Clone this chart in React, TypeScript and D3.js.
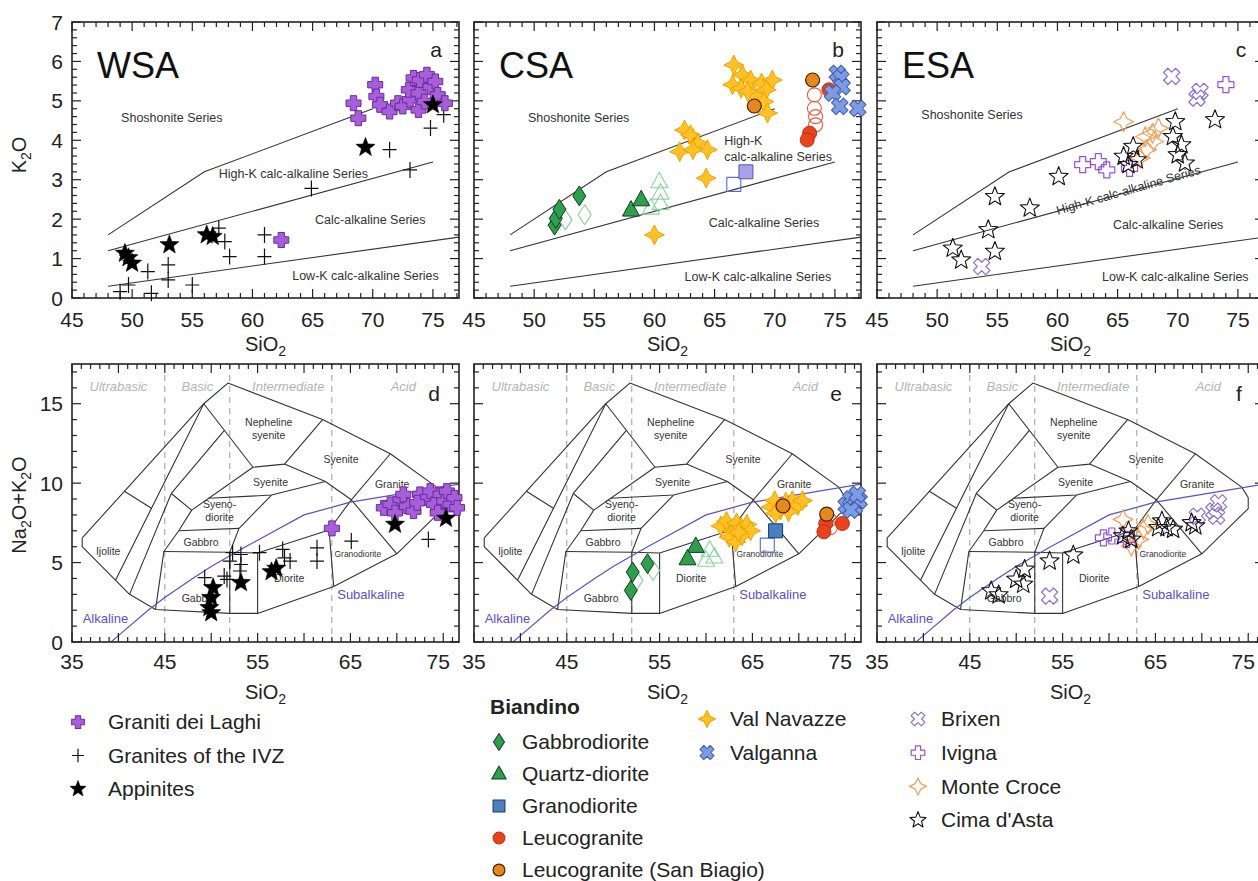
import React from "react";
import * as d3 from "d3";

type P = [number, number];

const FONT = "'Liberation Sans', Arial, Helvetica, sans-serif";

// ---------------- axis ticks ----------------
const k2oTicks = [0, 1, 2, 3, 4, 5, 6, 7];
const silicaTicksTop = [45, 50, 55, 60, 65, 70, 75];
const silicaTicksTas = [35, 45, 55, 65, 75];
const alkaliTicks = [0, 5, 10, 15];

// ---------------- Peccerillo & Taylor series boundaries ----------------
const shoshoniteLine: P[] = [[48, 1.6], [56, 3.2], [70, 4.8]];
const highKLine: P[] = [[48, 1.2], [75, 3.45]];
const lowKLine: P[] = [[48, 0.3], [77.3, 1.55]];

// ---------------- TAS (plutonic) ----------------
const tasOutline: P[] = [
  [36.1, 6.55], [49.2, 15.0], [51.8, 16.3], [62.0, 14.0], [69.3, 11.85], [74.3, 9.75],
  [75.0, 9.1], [75.0, 8.4], [70.0, 5.55], [63.2, 3.5], [55.0, 1.8], [52.0, 1.8],
  [44.0, 2.05], [41.2, 3.0], [36.1, 6.0], [36.1, 6.55],
];
const tasLines: P[][] = [
  [[39.7, 3.9], [49.2, 15.0]],
  [[40.6, 9.5], [43.6, 8.4]],
  [[41.2, 3.0], [45.7, 9.35], [51.4, 13.3]],
  [[49.2, 15.0], [54.5, 11.0]],
  [[44.0, 2.05], [44.9, 5.7], [46.5, 7.0], [47.9, 8.3], [54.5, 11.0]],
  [[45.7, 9.35], [47.9, 8.3]],
  [[54.5, 11.0], [57.9, 11.2], [62.0, 14.0]],
  [[57.9, 11.2], [62.3, 10.1], [65.1, 8.95], [69.3, 11.85]],
  [[49.7, 9.05], [56.5, 9.25], [62.3, 10.1]],
  [[53.0, 7.15], [56.5, 9.25]],
  [[44.9, 5.7], [52.0, 5.65], [55.0, 5.6], [62.7, 7.05], [65.1, 8.95]],
  [[46.5, 7.0], [53.0, 7.15]],
  [[52.0, 5.65], [53.0, 7.15]],
  [[52.0, 5.65], [52.0, 1.8]],
  [[55.0, 5.6], [55.0, 1.8]],
  [[62.7, 7.05], [63.2, 3.5]],
  [[65.1, 8.95], [70.0, 5.55]],
];
const irvineBaragar: P[] = [
  [39.2, 0], [40, 0.4], [43.2, 2], [45, 2.8], [48, 4], [50, 4.75], [53.7, 6], [55, 6.4],
  [60, 8], [65, 8.8], [77.4, 10],
];
const silicaDivisions = [45, 52, 63];
const silicaClasses = [
  { t: "Ultrabasic", x: 40.0 },
  { t: "Basic", x: 48.5 },
  { t: "Intermediate", x: 58.3 },
  { t: "Acid", x: 70.7 },
];
const tasFieldLabels = [
  { t: "Ijolite", x: 38.9, y: 5.72, s: 10.5 },
  { t: "Gabbro", x: 48.9, y: 6.3, s: 10.5 },
  { t: "Gabbro", x: 48.7, y: 2.73, s: 10.5 },
  { t: "Syeno-", x: 50.9, y: 8.66, s: 10.5 },
  { t: "diorite", x: 50.9, y: 7.86, s: 10.5 },
  { t: "Syenite", x: 56.4, y: 10.05, s: 10.5 },
  { t: "Nepheline", x: 56.2, y: 13.8, s: 10.5 },
  { t: "syenite", x: 56.2, y: 13.0, s: 10.5 },
  { t: "Syenite", x: 64.0, y: 11.5, s: 10.5 },
  { t: "Granite", x: 69.5, y: 9.9, s: 10.5 },
  { t: "Diorite", x: 58.4, y: 4.0, s: 10.5 },
  { t: "Granodiorite", x: 65.8, y: 5.55, s: 8.5 },
];

// ---------------- series labels (upper panels) ----------------
const seriesLabelsA = [
  { t: "Shoshonite Series", x: 53.3, y: 4.57 },
  { t: "High-K calc-alkaline Series", x: 63.4, y: 3.15 },
  { t: "Calc-alkaline Series", x: 69.8, y: 2.0 },
  { t: "Low-K calc-alkaline Series", x: 69.4, y: 0.58 },
];
const seriesLabelsB = [
  { t: "Shoshonite Series", x: 53.7, y: 4.57 },
  { t: "High-K", x: 65.8, y: 3.98, a: "start" },
  { t: "calc-alkaline Series", x: 65.8, y: 3.58, a: "start" },
  { t: "Calc-alkaline Series", x: 69.1, y: 1.9 },
  { t: "Low-K calc-alkaline Series", x: 68.6, y: 0.53 },
];
const seriesLabelsC = [
  { t: "Shoshonite Series", x: 52.9, y: 4.64 },
  { t: "High-K calc-alkaline Series", x: 65.9, y: 2.74, r: -16 },
  { t: "Calc-alkaline Series", x: 69.2, y: 1.85 },
  { t: "Low-K calc-alkaline Series", x: 69.8, y: 0.53 },
];

// ---------------- data: WSA ----------------
const laghiA: P[] = [[68.4, 4.94], [68.8, 4.56], [70.2, 5.41], [70.3, 5.11], [70.6, 4.9], [71.4, 4.73], [72.1, 4.94], [72.5, 4.86], [73.1, 5.03], [73.0, 5.28], [73.4, 5.58], [73.8, 5.2], [73.8, 4.77], [73.9, 5.53], [74.3, 4.98], [74.5, 5.66], [74.8, 5.36], [75.2, 5.49], [75.4, 5.15], [76.0, 4.94], [62.4, 1.47]];
const ivzA: P[] = [[49.0, 0.16], [49.7, 0.33], [51.3, 0.67], [51.6, 0.12], [53.0, 0.84], [53.0, 0.46], [55.0, 0.33], [57.2, 1.77], [57.7, 1.43], [58.1, 1.05], [61.0, 1.6], [61.0, 1.05], [64.9, 2.78], [71.4, 3.76], [73.1, 3.25], [74.8, 4.31], [75.9, 4.65]];
const appinitesA: P[] = [[49.4, 1.13], [49.7, 1.02], [50.0, 0.88], [53.1, 1.35], [56.2, 1.6], [56.7, 1.56], [69.4, 3.82], [75.0, 4.9]];

const laghiD: P[] = [[63.0, 7.15], [68.6, 8.45], [69.3, 8.66], [70.4, 8.97], [71.1, 8.55], [71.8, 8.24], [72.5, 9.29], [73.3, 9.08], [73.6, 9.5], [74.0, 8.66], [74.7, 9.29], [75.1, 8.87], [75.4, 9.5], [75.8, 8.66], [76.2, 9.08], [76.5, 8.45], [74.4, 8.13], [72.2, 8.76], [70.7, 9.29], [69.8, 8.13]];
const ivzD: P[] = [[49.3, 4.05], [51.4, 4.15], [51.7, 3.94], [52.0, 5.09], [52.3, 5.62], [53.2, 5.51], [53.2, 4.88], [53.1, 4.47], [55.2, 5.62], [57.7, 5.83], [57.9, 5.3], [58.5, 5.09], [61.4, 5.93], [61.4, 5.09], [65.1, 6.35], [73.4, 6.46]];
const appinitesD: P[] = [[50.2, 3.42], [50.0, 2.79], [49.8, 2.16], [50.0, 1.84], [53.2, 3.73], [56.5, 4.42], [57.0, 4.63], [69.8, 7.4], [75.3, 7.78]];

// ---------------- data: CSA ----------------
const gabbrodioriteB: P[] = [[51.7, 1.85], [51.8, 2.02], [52.1, 2.25], [53.75, 2.59]];
const gabbrodioriteOpenB: P[] = [[52.6, 1.98], [54.2, 2.11]];
const qtzDioriteB: P[] = [[58.05, 2.23], [58.9, 2.49]];
const qtzDioriteOpenB: P[] = [[60.4, 2.95], [60.5, 2.66], [60.5, 2.4], [59.7, 2.28]];
const granodioriteB: P[] = [[67.6, 3.2]];
const granodioriteOpenB: P[] = [[66.6, 2.88]];
const leucograniteB: P[] = [[74.5, 5.28], [72.9, 4.18], [72.7, 4.01]];
const leucograniteOpenB: P[] = [[73.3, 5.15], [73.3, 4.81], [73.4, 4.6], [73.4, 4.39]];
const sanBiagioB: P[] = [[68.3, 4.87], [73.15, 5.53]];
const valNavazzeB: P[] = [[66.6, 5.91], [67.3, 5.66], [66.5, 5.41], [67.2, 5.32], [68.0, 5.53], [68.9, 5.45], [69.8, 5.53], [68.3, 5.15], [69.3, 5.28], [69.1, 4.98], [69.4, 4.69], [67.75, 5.24], [62.5, 4.26], [63.0, 4.14], [63.6, 3.93], [64.4, 3.76], [62.1, 3.71], [63.2, 3.76], [64.3, 3.04], [60.0, 1.6]];
const valgannaB: P[] = [[75.2, 5.7], [75.5, 5.58], [75.6, 5.36], [74.8, 5.2], [75.4, 4.86], [76.9, 4.81]];

const gabbrodioriteE: P[] = [[52.1, 4.4], [51.9, 3.25], [53.7, 4.93]];
const gabbrodioriteOpenE: P[] = [[52.5, 3.88], [54.3, 4.5]];
const qtzDioriteE: P[] = [[58.9, 6.02], [58.0, 5.24]];
const qtzDioriteOpenE: P[] = [[60.4, 5.77], [60.9, 5.35], [60.0, 5.14]];
const granodioriteE: P[] = [[67.5, 7.0]];
const granodioriteOpenE: P[] = [[66.6, 6.1]];
const leucograniteE: P[] = [[72.9, 7.46], [72.7, 6.94], [74.7, 7.46]];
const leucograniteOpenE: P[] = [[73.3, 7.7], [73.4, 7.2]];
const sanBiagioE: P[] = [[68.3, 8.57], [73.0, 8.05]];
const valNavazzeE: P[] = [[61.6, 7.3], [62.2, 7.6], [62.8, 7.0], [63.3, 7.5], [63.8, 7.2], [64.4, 7.4], [62.5, 6.6], [63.2, 6.3], [63.9, 6.7], [64.8, 7.0], [67.0, 8.5], [67.4, 8.9], [68.0, 8.3], [68.6, 8.8], [69.3, 8.9], [69.9, 8.6], [70.4, 8.9], [68.9, 8.2], [67.5, 8.1], [63.5, 6.9]];
const valgannaE: P[] = [[75.1, 8.6], [75.6, 9.0], [76.0, 8.5], [76.5, 8.9], [75.6, 8.3], [76.3, 9.3]];

// ---------------- data: ESA ----------------
const cimaC: P[] = [[51.3, 1.26], [52.0, 0.96], [54.25, 1.73], [54.8, 2.57], [54.8, 1.18], [57.7, 2.28], [60.1, 3.08], [65.5, 3.59], [66.3, 3.84], [65.9, 3.38], [66.6, 3.5], [69.8, 4.47], [69.6, 4.09], [70.3, 3.88], [70.0, 3.63], [70.6, 3.42], [73.1, 4.52]];
const brixenC: P[] = [[69.5, 5.62], [71.85, 5.24], [71.6, 5.07], [53.7, 0.8]];
const ivignaC: P[] = [[62.1, 3.38], [63.4, 3.46], [64.1, 3.25], [66.0, 3.29], [74.0, 5.41]];
const monteCroceC: P[] = [[65.5, 4.47], [67.3, 4.09], [67.9, 4.18], [68.4, 4.31], [68.0, 3.97], [67.4, 3.76], [66.9, 3.55]];

const cimaF: P[] = [[47.3, 3.21], [48.1, 2.96], [50.0, 3.94], [50.75, 3.63], [50.9, 4.57], [53.6, 5.09], [56.15, 5.47], [61.5, 6.67], [62.1, 6.98], [62.4, 6.46], [65.3, 7.19], [65.7, 7.61], [66.2, 7.19], [66.9, 7.09], [68.9, 7.5], [69.3, 7.3]];
const brixenF: P[] = [[53.6, 2.89], [69.5, 7.92], [71.3, 8.24], [71.8, 8.76], [71.6, 7.92]];
const ivignaF: P[] = [[59.4, 6.56], [60.3, 6.67], [61.9, 6.46]];
const monteCroceF: P[] = [[61.5, 7.72], [63.7, 7.09], [64.2, 7.4], [63.2, 6.46], [62.4, 6.04]];

// ---------------- legend ----------------
const legendWSA = [
  { key: "laghi", label: "Graniti dei Laghi" },
  { key: "ivz", label: "Granites of the IVZ" },
  { key: "appinite", label: "Appinites" },
];
const legendBiandino = [
  { key: "gabbro", label: "Gabbrodiorite" },
  { key: "qtzd", label: "Quartz-diorite" },
  { key: "grdE", label: "Granodiorite" },
  { key: "leuco", label: "Leucogranite" },
  { key: "sanb", label: "Leucogranite (San Biagio)" },
];
const legendCSA = [
  { key: "navazze", label: "Val Navazze" },
  { key: "valganna", label: "Valganna" },
];
const legendESA = [
  { key: "brixen", label: "Brixen" },
  { key: "ivigna", label: "Ivigna" },
  { key: "monte", label: "Monte Croce" },
  { key: "cima", label: "Cima d'Asta" },
];

// ---------------- symbol shapes ----------------
function crossPath(r: number, a: number) {
  return `M${-a},${-r}H${a}V${-a}H${r}V${a}H${a}V${r}H${-a}V${a}H${-r}V${-a}H${-a}Z`;
}
function starPath(R: number, r: number, n: number) {
  const pts: string[] = [];
  for (let i = 0; i < n * 2; i++) {
    const ang = -Math.PI / 2 + (i * Math.PI) / n;
    const rad = i % 2 === 0 ? R : r;
    pts.push(`${(Math.cos(ang) * rad).toFixed(2)},${(Math.sin(ang) * rad).toFixed(2)}`);
  }
  return "M" + pts.join("L") + "Z";
}
function circlePath(r: number) {
  return `M${r},0A${r},${r} 0 1,1 ${-r},0A${r},${r} 0 1,1 ${r},0Z`;
}

type Sym = { d: string; fill: string; stroke: string; sw: number; rot?: number };
const SYM: Record<string, Sym> = {
  laghi: { d: crossPath(7.5, 3.2), fill: "#a65fd8", stroke: "#6a2c9e", sw: 1 },
  ivz: { d: "M-7,0H7M0,-8V8", fill: "none", stroke: "#111", sw: 1.2 },
  appinite: { d: starPath(10, 4.2, 5), fill: "#000", stroke: "#000", sw: 0.6 },
  gabbro: { d: "M0,-10L6.5,0L0,10L-6.5,0Z", fill: "#2f9e4e", stroke: "#103d1e", sw: 1 },
  gabbroO: { d: "M0,-10L6.5,0L0,10L-6.5,0Z", fill: "none", stroke: "#86cf98", sw: 1.1 },
  qtzd: { d: "M0,-9.5L8.5,6L-8.5,6Z", fill: "#2f9e4e", stroke: "#103d1e", sw: 1 },
  qtzdO: { d: "M0,-9.5L8.5,6L-8.5,6Z", fill: "none", stroke: "#86d69c", sw: 1.1 },
  grdB: { d: "M-7,-7H7V7H-7Z", fill: "#a7a3e6", stroke: "#5a52b8", sw: 1 },
  grdE: { d: "M-7,-7H7V7H-7Z", fill: "#4a7fc1", stroke: "#1c3766", sw: 1 },
  grdO: { d: "M-7,-7H7V7H-7Z", fill: "none", stroke: "#5a6ad0", sw: 1.1 },
  leuco: { d: circlePath(7), fill: "#e8421e", stroke: "#c0300f", sw: 1 },
  leucoO: { d: circlePath(7), fill: "none", stroke: "#e85a3a", sw: 1.1 },
  sanb: { d: circlePath(7), fill: "#e3891f", stroke: "#4a2000", sw: 1.2 },
  navazze: { d: starPath(10, 4.6, 4), fill: "#ffc125", stroke: "#f0a300", sw: 1 },
  valganna: { d: crossPath(8.5, 3.2), fill: "#7d9be2", stroke: "#3d59b0", sw: 1, rot: 45 },
  brixen: { d: crossPath(8.5, 3), fill: "none", stroke: "#8b70d0", sw: 1.2, rot: 45 },
  ivigna: { d: crossPath(8, 3), fill: "none", stroke: "#9a4fd8", sw: 1.2 },
  monte: { d: starPath(10, 4.6, 4), fill: "none", stroke: "#f0a05a", sw: 1.2 },
  cima: { d: starPath(10, 4.3, 5), fill: "none", stroke: "#111", sw: 1.1 },
};

type Scale = d3.ScaleLinear<number, number>;

function Marks({ data, sym, xs, ys }: { data: P[]; sym: string; xs: Scale; ys: Scale }) {
  const s = SYM[sym];
  return (
    <g>
      {data.map((d, i) => (
        <path
          key={i}
          d={s.d}
          transform={`translate(${xs(d[0]).toFixed(1)},${ys(d[1]).toFixed(1)}) rotate(${s.rot || 0})`}
          fill={s.fill}
          stroke={s.stroke}
          strokeWidth={s.sw}
          strokeLinejoin="round"
        />
      ))}
    </g>
  );
}

function LegendMark({ sym, x, y, k = 0.85 }: { sym: string; x: number; y: number; k?: number }) {
  const s = SYM[sym];
  return (
    <path
      d={s.d}
      transform={`translate(${x},${y}) rotate(${s.rot || 0}) scale(${k})`}
      fill={s.fill}
      stroke={s.stroke}
      strokeWidth={s.sw / k}
      strokeLinejoin="round"
    />
  );
}

const PW = 387;
const TOP_H = 276;
const BOT_H = 278;

function Sub({ base, sub, after }: { base: string; sub: string; after?: string }) {
  return (
    <>
      <tspan>{base}</tspan>
      <tspan dy={5} fontSize="0.7em">{sub}</tspan>
      <tspan dy={-5}>{after || ""}</tspan>
    </>
  );
}

type Series = { data: P[]; sym: string };
type Label = { t: string; x: number; y: number; a?: string; r?: number };

function Panel(props: {
  ox: number;
  oy: number;
  kind: "k2o" | "tas";
  letter: string;
  region?: string;
  series: Series[];
  labels?: Label[];
  yLabels: boolean;
}) {
  const { ox, oy, kind, letter, region, series, labels, yLabels } = props;
  const top = kind === "k2o";
  const h = top ? TOP_H : BOT_H;
  const xs = d3.scaleLinear().domain(top ? [45, 77.17] : [35, 76.7]).range([0, PW]);
  const ys = d3.scaleLinear().domain(top ? [0, 7] : [0, 17.5]).range([h, 0]);
  const line = d3
    .line<P>()
    .x((d) => xs(d[0]))
    .y((d) => ys(d[1]));
  const [x0, x1] = xs.domain();
  const xMinor = d3.range(Math.ceil(x0), x1 + 1e-6, 1);
  const yStep = top ? 0.2 : 1;
  const yMinor = d3.range(0, ys.domain()[1] + 1e-6, yStep);
  const isMajX = (v: number) => Math.abs(v % 5) < 1e-6;
  const isMajY = (v: number) =>
    top ? Math.abs(v - Math.round(v)) < 1e-6 : Math.abs(v % 5) < 1e-6 || Math.abs((v % 5) - 5) < 1e-6;
  const clipId = `clip-${letter}`;
  const xLabelVals = top ? silicaTicksTop : silicaTicksTas;
  const yLabelVals = top ? k2oTicks : alkaliTicks;

  return (
    <g transform={`translate(${ox},${oy})`}>
      <defs>
        <clipPath id={clipId}>
          <rect x={0} y={0} width={PW} height={h} />
        </clipPath>
      </defs>
      <g clipPath={`url(#${clipId})`}>
        {top ? (
          <g fill="none" stroke="#333" strokeWidth={1.1}>
            <path d={line(shoshoniteLine) || ""} />
            <path d={line(highKLine) || ""} />
            <path d={line(lowKLine) || ""} />
          </g>
        ) : (
          <>
            <g stroke="#9a9a9a" strokeWidth={1} strokeDasharray="6,5">
              {silicaDivisions.map((v) => (
                <line key={v} x1={xs(v)} x2={xs(v)} y1={0} y2={h} />
              ))}
            </g>
            {silicaClasses.map((c) => (
              <text
                key={c.t}
                x={xs(c.x)}
                y={ys(16.1)}
                dy="0.35em"
                textAnchor="middle"
                fontSize={13}
                fontStyle="italic"
                fill="#b4b4b4"
              >
                {c.t}
              </text>
            ))}
            <g fill="none" stroke="#333" strokeWidth={1.1} strokeLinejoin="round">
              <path d={line(tasOutline) || ""} />
              {tasLines.map((l, i) => (
                <path key={i} d={line(l) || ""} />
              ))}
            </g>
            <path d={line(irvineBaragar) || ""} fill="none" stroke="#5b4fc9" strokeWidth={1.2} />
            {tasFieldLabels.map((f, i) => (
              <text
                key={i}
                x={xs(f.x)}
                y={ys(f.y)}
                dy="0.35em"
                textAnchor="middle"
                fontSize={f.s}
                fill="#333"
              >
                {f.t}
              </text>
            ))}
            <text x={xs(38.6)} y={ys(1.5)} dy="0.35em" textAnchor="middle" fontSize={13} fill="#5b4fc9">
              Alkaline
            </text>
            <text x={xs(67.2)} y={ys(3.0)} dy="0.35em" textAnchor="middle" fontSize={13} fill="#5b4fc9">
              Subalkaline
            </text>
          </>
        )}
        {(labels || []).map((l, i) => (
          <text
            key={i}
            x={xs(l.x)}
            y={ys(l.y)}
            dy="0.35em"
            textAnchor={l.a || "middle"}
            fontSize={12.5}
            fill="#333"
            transform={l.r ? `rotate(${l.r},${xs(l.x)},${ys(l.y)})` : undefined}
          >
            {l.t}
          </text>
        ))}
      </g>

      {/* ticks */}
      <g stroke="#222" strokeWidth={1.2}>
        {xMinor.map((v) => {
          const L = isMajX(v) ? 9 : 5;
          return (
            <g key={"x" + v}>
              <line x1={xs(v)} x2={xs(v)} y1={h} y2={h - L} />
              <line x1={xs(v)} x2={xs(v)} y1={0} y2={L} />
            </g>
          );
        })}
        {yMinor.map((v) => {
          const L = isMajY(v) ? 9 : 5;
          return (
            <g key={"y" + v}>
              <line x1={0} x2={L} y1={ys(v)} y2={ys(v)} />
              <line x1={PW} x2={PW - L} y1={ys(v)} y2={ys(v)} />
            </g>
          );
        })}
      </g>
      <rect x={0} y={0} width={PW} height={h} fill="none" stroke="#222" strokeWidth={1.6} />

      {/* data */}
      {series.map((s, i) => (
        <Marks key={i} data={s.data} sym={s.sym} xs={xs} ys={ys} />
      ))}

      {/* tick labels */}
      {xLabelVals.map((v) => (
        <text
          key={"xl" + v}
          x={xs(v) - (!top && v === 75 ? 5 : 0)}
          y={h + (top ? 29 : 27)}
          textAnchor="middle"
          fontSize={21}
          fill="#222"
        >
          {v}
        </text>
      ))}
      {yLabels &&
        yLabelVals.map((v) => (
          <text key={"yl" + v} x={-9} y={ys(v)} dy="0.36em" textAnchor="end" fontSize={21} fill="#222">
            {v}
          </text>
        ))}
      <text x={PW / 2} y={h + (top ? 53 : 57)} textAnchor="middle" fontSize={20} fill="#222">
        <Sub base="SiO" sub="2" />
      </text>
      {region && (
        <text x={25} y={56} fontSize={36} fill="#111">
          {region}
        </text>
      )}
      <text x={top ? 364 : 362} y={top ? 35 : 37} textAnchor="middle" fontSize={21} fill="#222">
        {letter}
      </text>
    </g>
  );
}

export default function App() {
  const colX = [72, 474, 877];
  const topY = 22;
  const botY = 364;
  const rowGap = 33.5;
  return (
    <svg
      width={1258}
      height={881}
      viewBox="0 0 1258 881"
      style={{ position: "absolute", left: 0, top: 0, background: "#fff" }}
      fontFamily={FONT}
    >
      <rect x={0} y={0} width={1258} height={881} fill="#fff" />
      <Panel
        ox={colX[0]}
        oy={topY}
        kind="k2o"
        letter="a"
        region="WSA"
        yLabels
        labels={seriesLabelsA}
        series={[
          { data: ivzA, sym: "ivz" },
          { data: laghiA, sym: "laghi" },
          { data: appinitesA, sym: "appinite" },
        ]}
      />
      <Panel
        ox={colX[1]}
        oy={topY}
        kind="k2o"
        letter="b"
        region="CSA"
        yLabels={false}
        labels={seriesLabelsB}
        series={[
          { data: gabbrodioriteOpenB, sym: "gabbroO" },
          { data: gabbrodioriteB, sym: "gabbro" },
          { data: qtzDioriteOpenB, sym: "qtzdO" },
          { data: qtzDioriteB, sym: "qtzd" },
          { data: valNavazzeB, sym: "navazze" },
          { data: granodioriteOpenB, sym: "grdO" },
          { data: granodioriteB, sym: "grdB" },
          { data: leucograniteOpenB, sym: "leucoO" },
          { data: leucograniteB, sym: "leuco" },
          { data: valgannaB, sym: "valganna" },
          { data: sanBiagioB, sym: "sanb" },
        ]}
      />
      <Panel
        ox={colX[2]}
        oy={topY}
        kind="k2o"
        letter="c"
        region="ESA"
        yLabels={false}
        labels={seriesLabelsC}
        series={[
          { data: monteCroceC, sym: "monte" },
          { data: ivignaC, sym: "ivigna" },
          { data: brixenC, sym: "brixen" },
          { data: cimaC, sym: "cima" },
        ]}
      />
      <Panel
        ox={colX[0]}
        oy={botY}
        kind="tas"
        letter="d"
        yLabels
        series={[
          { data: ivzD, sym: "ivz" },
          { data: laghiD, sym: "laghi" },
          { data: appinitesD, sym: "appinite" },
        ]}
      />
      <Panel
        ox={colX[1]}
        oy={botY}
        kind="tas"
        letter="e"
        yLabels={false}
        series={[
          { data: gabbrodioriteOpenE, sym: "gabbroO" },
          { data: gabbrodioriteE, sym: "gabbro" },
          { data: qtzDioriteOpenE, sym: "qtzdO" },
          { data: qtzDioriteE, sym: "qtzd" },
          { data: valNavazzeE, sym: "navazze" },
          { data: granodioriteOpenE, sym: "grdO" },
          { data: granodioriteE, sym: "grdE" },
          { data: leucograniteOpenE, sym: "leucoO" },
          { data: leucograniteE, sym: "leuco" },
          { data: valgannaE, sym: "valganna" },
          { data: sanBiagioE, sym: "sanb" },
        ]}
      />
      <Panel
        ox={colX[2]}
        oy={botY}
        kind="tas"
        letter="f"
        yLabels={false}
        series={[
          { data: monteCroceF, sym: "monte" },
          { data: ivignaF, sym: "ivigna" },
          { data: brixenF, sym: "brixen" },
          { data: cimaF, sym: "cima" },
        ]}
      />

      {/* y-axis titles */}
      <text transform="translate(26,155) rotate(-90)" textAnchor="middle" fontSize={20} fill="#222">
        <Sub base="K" sub="2" after="O" />
      </text>
      <text transform="translate(26,505) rotate(-90)" textAnchor="middle" fontSize={20} fill="#222">
        <tspan>Na</tspan>
        <tspan dy={5} fontSize="0.7em">2</tspan>
        <tspan dy={-5}>O+K</tspan>
        <tspan dy={5} fontSize="0.7em">2</tspan>
        <tspan dy={-5}>O</tspan>
      </text>

      {/* legend */}
      <g fontSize={21} fill="#222">
        {legendWSA.map((l, i) => (
          <g key={l.key}>
            <LegendMark sym={l.key} x={78} y={722 + i * rowGap} />
            <text x={108} y={722 + i * rowGap} dy="0.35em">
              {l.label}
            </text>
          </g>
        ))}
        <text x={490} y={707} dy="0.35em" fontWeight="bold">
          Biandino
        </text>
        {legendBiandino.map((l, i) => (
          <g key={l.key}>
            <LegendMark sym={l.key} x={499} y={742 + i * 32} />
            <text x={522} y={742 + i * 32} dy="0.35em">
              {l.label}
            </text>
          </g>
        ))}
        {legendCSA.map((l, i) => (
          <g key={l.key}>
            <LegendMark sym={l.key} x={707} y={719 + i * rowGap} />
            <text x={730} y={719 + i * rowGap} dy="0.35em">
              {l.label}
            </text>
          </g>
        ))}
        {legendESA.map((l, i) => (
          <g key={l.key}>
            <LegendMark sym={l.key} x={918} y={719 + i * 33.7} />
            <text x={941} y={719 + i * 33.7} dy="0.35em">
              {l.label}
            </text>
          </g>
        ))}
      </g>
    </svg>
  );
}
